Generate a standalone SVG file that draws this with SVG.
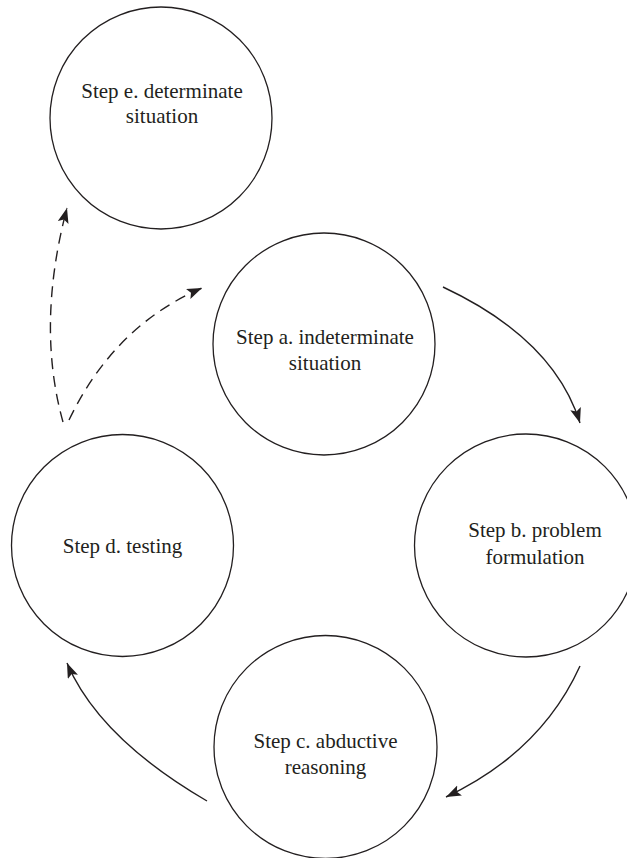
<svg xmlns="http://www.w3.org/2000/svg" width="627" height="858" viewBox="0 0 627 858">
<style>
.node{fill:#fff;stroke:#231f20;stroke-width:1.3}
.lbl{font-family:"Liberation Serif","Times New Roman",Times,Tinos,"Nimbus Roman","FreeSerif","DejaVu Serif","Noto Serif",serif;font-size:21px;fill:#231f20;text-anchor:middle}
.edge{fill:none;stroke:#231f20;stroke-width:1.4}
.dash{stroke-dasharray:11 7}
</style>
<defs>
<marker id="arr" markerUnits="userSpaceOnUse" markerWidth="16" markerHeight="12" refX="15" refY="5.5" orient="auto">
<path d="M0,0 L15,5.5 L0,11 L3,5.5 z" fill="#231f20" stroke="none"/>
</marker>
</defs>
<rect width="627" height="858" fill="#fff"/>
<g id="node-e">
<circle class="node" cx="161" cy="118" r="111"/>
<text class="lbl" x="162" y="98">Step e. determinate</text>
<text class="lbl" x="162" y="123">situation</text>
</g>
<g id="node-a">
<circle class="node" cx="324" cy="344" r="111"/>
<text class="lbl" x="325" y="344">Step a. indeterminate</text>
<text class="lbl" x="325" y="370">situation</text>
</g>
<g id="node-b">
<circle class="node" cx="526" cy="545.5" r="111.5"/>
<text class="lbl" x="535" y="537">Step b. problem</text>
<text class="lbl" x="535" y="564">formulation</text>
</g>
<g id="node-c">
<circle class="node" cx="325.5" cy="747" r="111.5"/>
<text class="lbl" x="325.5" y="748">Step c. abductive</text>
<text class="lbl" x="325.5" y="774">reasoning</text>
</g>
<g id="node-d">
<circle class="node" cx="122.5" cy="545.5" r="111"/>
<text class="lbl" x="122.5" y="553">Step d. testing</text>
</g>
<g id="connectors">
<path class="edge" d="M443,287 Q554,339 580,423" marker-end="url(#arr)"/>
<path class="edge" d="M580,666 Q541,752 446,797" marker-end="url(#arr)"/>
<path class="edge" d="M207,801 Q99,738 67,663" marker-end="url(#arr)"/>
<path class="edge dash" d="M63,422 Q36,325 67,208" marker-end="url(#arr)"/>
<path class="edge dash" d="M69,420 Q114,326 202,288" marker-end="url(#arr)"/>
</g>
</svg>
